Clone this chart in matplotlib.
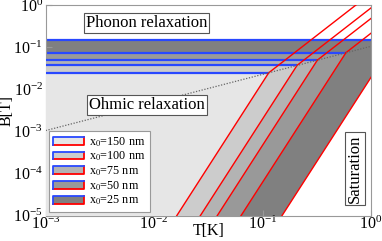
import matplotlib
matplotlib.use("Agg")
import matplotlib.pyplot as plt
import numpy as np
from matplotlib.legend_handler import HandlerBase
from matplotlib.patches import Rectangle
from matplotlib.lines import Line2D

plt.rcParams['font.family'] = ['Liberation Serif', 'DejaVu Serif']
plt.rcParams['mathtext.fontset'] = 'stix'

# data
x0_nm = [150, 100, 75, 50, 25]
B_phonon = [0.0247, 0.037, 0.0493, 0.074, 0.148]     # blue horizontal levels [T]
T_kink = [0.114, 0.208, 0.32, 0.587, 1.666]          # where red lines change slope [K]
fill_grey = ['#e6e6e6', '#cccccc', '#b3b3b3', '#999999', '#808080']
slope_low = 4.0     # red line below kink (log-log slope)
slope_high = 2.0    # red line above kink
ohmic_T = [1e-3, 1.0]
ohmic_B = [1.05e-3, 0.105]

Tmin, Tmax = 1e-3, 1.0
Bmin, Bmax = 1e-5, 1.0
blue = '#2848ff'

fig = plt.figure(figsize=(3.82, 2.41), dpi=100)
ax = fig.add_axes([0.1196, 0.105, 0.8516, 0.874])
ax.set_xscale('log')
ax.set_yscale('log')
ax.set_xlim(Tmin, Tmax)
ax.set_ylim(Bmin, Bmax)

order = list(range(len(x0_nm)))[::-1]  # darkest first
for k, i in enumerate(order):
    Bh, Tk = B_phonon[i], T_kink[i]
    Tb = Tk * (1e-6 / Bh) ** (1.0 / slope_low)
    poly = [(1e-4, 1e-6), (1e-4, Bh), (Tk, Bh), (Tb, 1e-6)]
    ax.add_patch(plt.Polygon(poly, closed=True, facecolor=fill_grey[i],
                             edgecolor='none', zorder=1 + k))
    ax.plot([1e-4, Tk], [Bh, Bh], color=blue, lw=1.6, zorder=1.5 + k,
            solid_capstyle='butt')
    ax.plot([Tb, Tk], [1e-6, Bh], color='red', lw=1.0, zorder=1.5 + k)

for i in range(len(x0_nm)):
    Bh, Tk = B_phonon[i], T_kink[i]
    Tt = Tk * (10.0 / Bh) ** (1.0 / slope_high)
    ax.plot([Tk, Tt], [Bh, 10.0], color='red', lw=1.0, zorder=20)

ax.plot(ohmic_T, ohmic_B, color='#666666', ls=(0, (1, 1.3)), lw=0.9, zorder=21)

box = dict(boxstyle='square,pad=0.12', facecolor='white', edgecolor='#555555', lw=0.8)
ax.text(0.00855, 0.378, 'Phonon relaxation', fontsize=12, ha='center', va='center',
        bbox=box, zorder=30)
ax.text(0.00855, 0.00424, 'Ohmic relaxation', fontsize=12, ha='center', va='center',
        bbox=box, zorder=30)
ax.text(0.705, 1.33e-4, 'Saturation', fontsize=12, ha='center', va='center',
        rotation=90, bbox=box, zorder=30)


class HandlerBox(HandlerBase):
    def create_artists(self, legend, orig_handle, xdescent, ydescent, width,
                       height, fontsize, trans):
        x0, y0 = -xdescent, -ydescent
        r = Rectangle((x0, y0), width, height, facecolor=orig_handle.get_facecolor(),
                      edgecolor='none', transform=trans)
        lb = Line2D([x0, x0, x0 + width], [y0, y0 + height, y0 + height],
                    color=blue, lw=1.3, transform=trans)
        lr = Line2D([x0, x0 + width, x0 + width], [y0, y0, y0 + height],
                    color='red', lw=1.3, transform=trans)
        return [r, lr, lb]


handles = [Rectangle((0, 0), 1, 1, facecolor=fill_grey[i]) for i in range(len(x0_nm))]
labels = [r'x$_0$=%d nm' % x for x in x0_nm]
leg = ax.legend(handles, labels, handler_map={Rectangle: HandlerBox()},
                loc='lower left', bbox_to_anchor=(0.011, 0.019), borderaxespad=0,
                fontsize=8.7, handlelength=2.5, handleheight=0.6, labelspacing=0.1,
                handletextpad=0.45, borderpad=0.35, fancybox=False, framealpha=1)
leg.get_frame().set_edgecolor('#999999')
leg.get_frame().set_linewidth(0.8)
leg.set_zorder(40)

for s in ax.spines.values():
    s.set_color('#999999')
    s.set_linewidth(0.8)
ax.tick_params(which='major', direction='in', length=4, color='#999999',
               labelsize=11.5, pad=2)
ax.tick_params(axis='x', pad=0)
ax.tick_params(which='minor', length=0)
ax.set_xticks([1e-3, 1e-2, 1e-1, 1e0])
ax.set_yticks([1e-5, 1e-4, 1e-3, 1e-2, 1e-1, 1e0])
ax.set_xlabel('T[K]', fontsize=11.5)
ax.set_ylabel('B[T]', fontsize=11.5)
ax.xaxis.set_label_coords(0.5, -0.035)
ax.yaxis.set_label_coords(-0.095, 0.5)

fig.savefig('out.png', dpi=100)
